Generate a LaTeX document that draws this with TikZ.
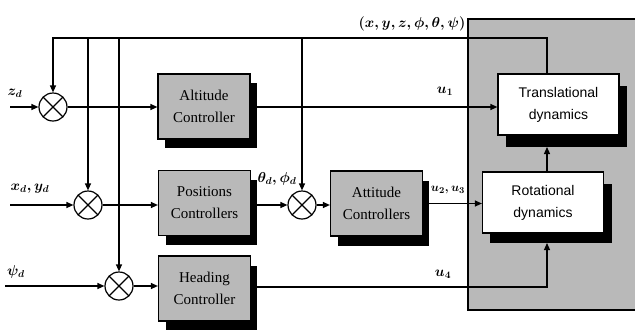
\documentclass[tikz,border=0pt]{standalone}
\usepackage{fontspec}
\setmainfont{Liberation Serif}
\newfontfamily\dynfont{Liberation Sans}
\usetikzlibrary{arrows.meta}
\begin{document}
\begin{tikzpicture}[x=1pt,y=-1pt,line width=1.2pt,
  arr/.style={-{Triangle[length=7pt,width=6pt]}},
  sumnode/.style={circle,draw,minimum size=28pt,inner sep=0pt,
    path picture={\draw[line width=1.2pt] (path picture bounding box.north west) -- (path picture bounding box.south east)
      (path picture bounding box.north east) -- (path picture bounding box.south west);}},
  ctrl/.style={draw,fill=gray!55,minimum width=92pt,minimum height=65pt,align=center,
    font=\fontsize{15}{22}\selectfont,inner sep=0pt},
  dyn/.style={draw,fill=white,minimum width=121pt,minimum height=61pt,align=center,
    font=\dynfont\fontsize{14}{22}\selectfont,inner sep=0pt},
  lab/.style={font=\fontsize{14}{16}\selectfont\boldmath,inner sep=0pt}]
\useasboundingbox (0,0) rectangle (635,333);
% gray plant region
\fill[gray!55] (468,19) rectangle (640,310);
\draw (640,19) -- (468,19) -- (468,310) -- (640,310);
% shadows
\fill[black] (165,83) rectangle (257,148);
\fill[black] (166,180) rectangle (257,245);
\fill[black] (166,266) rectangle (257,330);
\fill[black] (338,181) rectangle (429,246);
\fill[black] (506,86) rectangle (627,147);
\fill[black] (490,184) rectangle (612,243);
% blocks
\node[ctrl] (alt) at (204,106.5) {Altitude\\Controller};
\node[ctrl] (pos) at (204.5,203) {Positions\\Controllers};
\node[ctrl] (head) at (204.5,288.5) {Heading\\Controller};
\node[ctrl] (att) at (376.5,203.5) {Attitude\\Controllers};
\node[dyn] (trans) at (558.5,104.5) {Translational\\dynamics};
\node[dyn] (rot) at (543,202.5) {Rotational\\dynamics};
% summing junctions
\node[sumnode] (s1) at (53,107) {};
\node[sumnode] (s2) at (88,205) {};
\node[sumnode] (s3) at (302,205) {};
\node[sumnode] (s4) at (119,286) {};
% coordinates
\coordinate (ftop) at (547,38);
\coordinate (f1) at (53,38);
\coordinate (f2) at (88,38);
\coordinate (f3) at (119,38);
\coordinate (f4) at (302,38);
\coordinate (inz) at (10,107);
\coordinate (inxy) at (10,205);
\coordinate (inpsi) at (5,286);
\coordinate (u4c) at (547,287);
\coordinate (rtx) at (547,173);
\coordinate (tshb) at (547,147);
\coordinate (rshb) at (547,243);
% feedback
\draw[arr] (trans.north -| ftop) -- (ftop) -- (f1) -- (s1.north);
\draw[arr] (f2) -- (s2.north);
\draw[arr] (f3) -- (s4.north);
\draw[arr] (f4) -- (s3.north);
% inputs
\draw[arr] (inz) -- (s1.west);
\draw[arr] (inxy) -- (s2.west);
\draw[arr] (inpsi) -- (s4.west);
% forward paths
\draw[arr] (s1.east) -- (s1.east -| alt.west);
\draw[arr] (s2.east) -- (s2.east -| pos.west);
\draw[arr] (pos.east |- s3.west) -- (s3.west);
\draw[arr] (s3.east) -- (s3.east -| att.west);
\draw[arr] (s4.east) -- (s4.east -| head.west);
\draw[arr] (alt.east |- s1.east) -- (s1.east -| trans.west);
\draw[arr] (att.east) -- (att.east -| rot.west);
\draw[arr] (head.east |- u4c) -- (u4c) -- (rshb);
\draw[arr] (rtx) -- (tshb);
% labels
\node[lab,font=\fontsize{15}{17}\selectfont\boldmath] (lstate) at (412,24) {$\left(x,y,z,\phi,\theta,\psi\right)$};
\node[lab] (lu1) at (445,91) {$u_1$};
\node[lab,font=\fontsize{12.5}{14}\selectfont\boldmath] (lu23) at (448,190) {$u_2,u_3$};
\node[lab] (lu4) at (443,274) {$u_4$};
\node[lab] (lthphi) at (277,179) {$\theta_d,\phi_d$};
\node[lab] (lzd) at (15,93) {$z_d$};
\node[lab] (lxy) at (30,189) {$x_d,y_d$};
\node[lab] (lpsi) at (16,272) {$\psi_d$};
\end{tikzpicture}
\end{document}
